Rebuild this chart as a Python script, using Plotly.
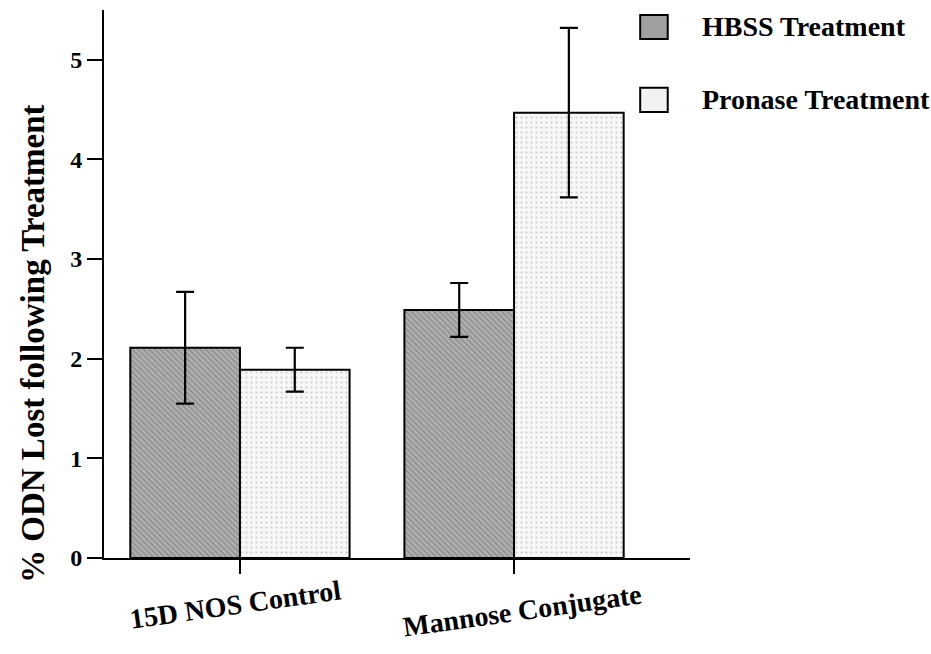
import plotly.graph_objects as go

categories = ["15D NOS Control", "Mannose Conjugate"]
series_names = ["HBSS Treatment", "Pronase Treatment"]
hbss_values = [2.11, 2.49]
hbss_errors = [0.56, 0.27]
pronase_values = [1.89, 4.47]
pronase_errors = [0.22, 0.85]
y_ticks = [0, 1, 2, 3, 4, 5]
y_title = "% ODN Lost following Treatment"

FONT = "Liberation Serif"

fig = go.Figure()
fig.add_trace(go.Bar(
    x=categories, y=hbss_values, name=series_names[0],
    error_y=dict(type="data", array=hbss_errors, visible=True,
                 color="black", thickness=2.2, width=9),
    marker=dict(color="#a0a0a0", line=dict(color="black", width=2),
                pattern=dict(shape="\\", fgcolor="#666666", bgcolor="#b0b0b0",
                             size=4, solidity=0.35)),
))
fig.add_trace(go.Bar(
    x=categories, y=pronase_values, name=series_names[1],
    error_y=dict(type="data", array=pronase_errors, visible=True,
                 color="black", thickness=2.2, width=9),
    marker=dict(color="#f2f2f2", line=dict(color="black", width=2),
                pattern=dict(shape=".", fgcolor="#a0a0a0", bgcolor="#f7f7f7",
                             size=5, solidity=0.15)),
))

# Category labels as slightly rotated text
label_y = [-0.085, -0.095]
for c, ly in zip(categories, label_y):
    fig.add_annotation(x=c, y=ly, xref="x", yref="paper", text="<b>%s</b>" % c,
                       showarrow=False, textangle=-8, xshift=-4 if c == categories[0] else 8,
                       font=dict(family=FONT, size=28, color="black"),
                       yanchor="middle", xanchor="center")

# Y-axis title (placed as rotated text, offset downward like the original)
fig.add_annotation(x=-0.12, y=0.39, xref="paper", yref="paper",
                   text="<b>%s</b>" % y_title, showarrow=False, textangle=-90,
                   font=dict(family=FONT, size=33, color="black"),
                   xanchor="center", yanchor="middle")

# Manual legend: swatches + labels
legend_fills = ["#a0a0a0", "#f2f2f2"]
legend_y = [0.969, 0.836]
for name, fill, ly in zip(series_names, legend_fills, legend_y):
    fig.add_shape(type="rect", xref="paper", yref="paper",
                  x0=0.915, x1=0.962, y0=ly - 0.022, y1=ly + 0.022,
                  fillcolor=fill, line=dict(color="black", width=2))
    fig.add_annotation(x=1.017, y=ly, xref="paper", yref="paper", text="<b>%s</b>" % name,
                       showarrow=False, xanchor="left", yanchor="middle",
                       font=dict(family=FONT, size=28, color="black"))

fig.update_layout(
    width=931, height=654,
    margin=dict(l=104, r=241, t=10, b=96),
    paper_bgcolor="white", plot_bgcolor="white",
    barmode="group", bargap=0.2, bargroupgap=0.0,
    showlegend=False,
    font=dict(family=FONT, color="black"),
    xaxis=dict(range=[-0.496, 1.642], showline=True, linecolor="black", linewidth=2,
               ticks="outside", ticklen=14, tickwidth=2, tickcolor="black",
               showticklabels=False, showgrid=False, zeroline=False),
    yaxis=dict(range=[0, 5.5], tickvals=y_ticks, ticktext=["<b>%d</b>" % t for t in y_ticks],
               showline=True, linecolor="black", linewidth=2,
               ticks="outside", ticklen=15, tickwidth=2, tickcolor="black",
               tickfont=dict(family=FONT, size=24, color="black"),
               showgrid=False, zeroline=False),
)

fig.write_html("out.html")
